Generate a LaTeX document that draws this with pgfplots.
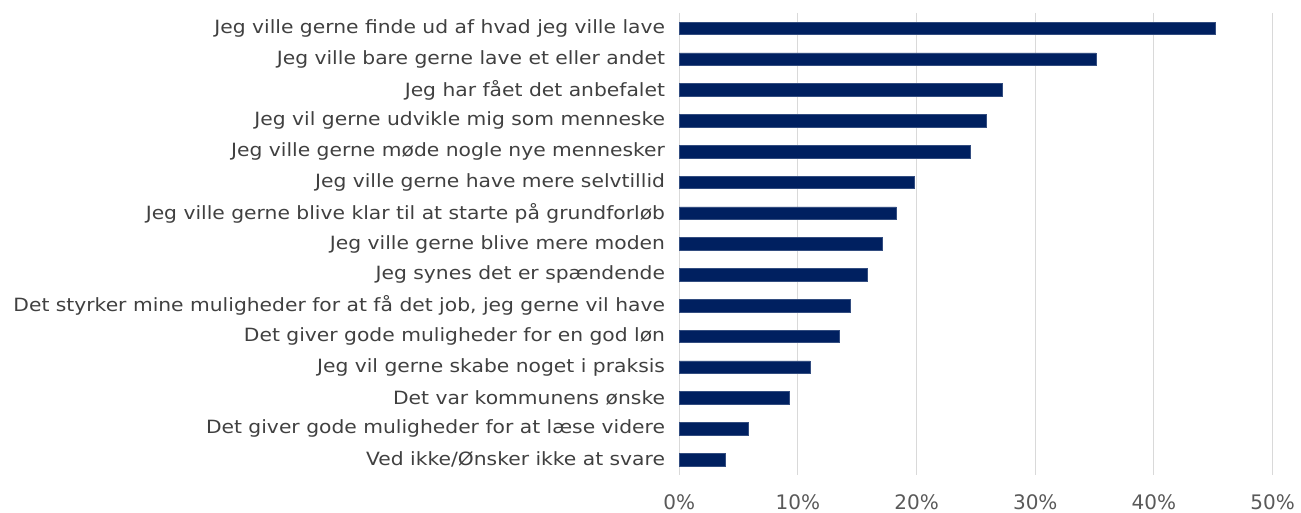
\documentclass[border=0pt]{standalone}
\usepackage{fontspec}
\setmainfont{DejaVu Sans}
\newfontfamily\labfont[FakeStretch=1.11]{DejaVu Sans}
\usepackage{pgfplots}
\pgfplotsset{compat=1.18}
\definecolor{barblue}{HTML}{002060}
\definecolor{gridgrey}{HTML}{D9D9D9}
\definecolor{ticktxt}{HTML}{595959}
\definecolor{labtxt}{HTML}{404040}
\begin{document}
\begin{tikzpicture}
\begin{axis}[
  at={(0pt,0pt)}, anchor=south west,
  scale only axis,
  width=445pt, height=346.5pt,
  xmin=0, xmax=50,
  ymin=-0.5, ymax=14.5,
  y dir=reverse,
  xbar, bar width=9.5pt,
  axis line style={draw=none},
  major tick length=0pt,
  xmajorgrids, grid style={gridgrey, line width=0.75pt},
  xtick={0,10,20,30,40,50},
  xticklabels={0\%,10\%,20\%,30\%,40\%,50\%},
  xticklabel style={anchor=center, yshift=-20.25pt, font=\fontsize{15}{17}\selectfont, text=ticktxt},
  ytick={0,...,14},
  yticklabels={
    Jeg ville gerne finde ud af hvad jeg ville lave,
    Jeg ville bare gerne lave et eller andet,
    Jeg har fået det anbefalet,
    Jeg vil gerne udvikle mig som menneske,
    Jeg ville gerne møde nogle nye mennesker,
    Jeg ville gerne have mere selvtillid,
    Jeg ville gerne blive klar til at starte på grundforløb,
    Jeg ville gerne blive mere moden,
    Jeg synes det er spændende,
    {Det styrker mine muligheder for at få det job, jeg gerne vil have},
    Det giver gode muligheder for en god løn,
    Jeg vil gerne skabe noget i praksis,
    Det var kommunens ønske,
    Det giver gode muligheder for at læse videre,
    Ved ikke/Ønsker ikke at svare},
  yticklabel style={anchor=east, inner sep=0pt, xshift=-10.5pt, font=\labfont\fontsize{13.7}{15}\selectfont, text=labtxt},
  clip=false,
]
\addplot[fill=barblue, draw=barblue!80!white, line width=0.4pt] coordinates {
  (45.2,0) (35.1,1) (27.2,2) (25.9,3) (24.5,4) (19.8,5) (18.3,6) (17.1,7)
  (15.8,8) (14.4,9) (13.5,10) (11.0,11) (9.3,12) (5.85,13) (3.9,14)
};
\end{axis}
\pgfresetboundingbox
\path[use as bounding box] (-509.5pt,-28.5pt) rectangle (466.3pt,356.25pt);
\end{tikzpicture}
\end{document}
